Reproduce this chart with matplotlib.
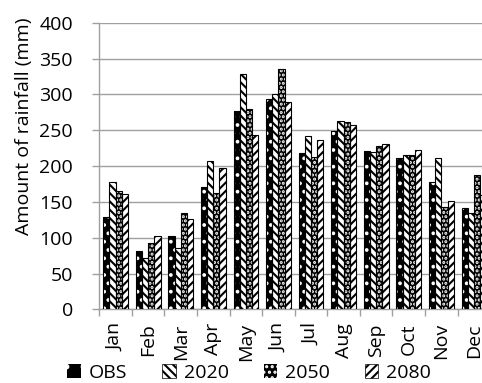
import numpy as np
import matplotlib
matplotlib.use("Agg")
import matplotlib.pyplot as plt
from matplotlib.patches import Patch

plt.rcParams['font.family'] = ['Open Sans', 'DejaVu Sans']
plt.rcParams['hatch.linewidth'] = 1.5

# monthly rainfall (mm): observed and three future periods
months = ['Jan', 'Feb', 'Mar', 'Apr', 'May', 'Jun',
          'Jul', 'Aug', 'Sep', 'Oct', 'Nov', 'Dec']
obs = [129, 81, 102, 171, 277, 293, 218, 249, 221, 211, 178, 142]
y2020 = [178, 72, 86, 207, 328, 301, 242, 263, 219, 215, 211, 134]
y2050 = [165, 93, 135, 163, 280, 336, 212, 261, 228, 215, 143, 187]
y2080 = [161, 103, 126, 197, 244, 289, 237, 258, 231, 223, 151, 159]
series_names = ['OBS', '2020', '2050', '2080']

fig = plt.figure(figsize=(4.82, 3.83), dpi=100)
ax = fig.add_axes([0.206, 0.1924, 0.811, 0.748])

x = np.arange(len(months))
w = 0.19
offsets = [-1.5 * w, -0.5 * w, 0.5 * w, 1.5 * w]

back = '\\' * 4
fwd = '/' * 4

# black bars with white dots: hatch drawn in white, outline added on top
ax.bar(x + offsets[0], obs, w, color='black', edgecolor='white', hatch='..', linewidth=0, zorder=3)
ax.bar(x + offsets[0], obs, w, fill=False, edgecolor='black', linewidth=0.8, zorder=4)
ax.bar(x + offsets[1], y2020, w, color='white', edgecolor='black', hatch=back, linewidth=0.8, zorder=3)
ax.bar(x + offsets[2], y2050, w, color='black', edgecolor='white', hatch='....', linewidth=0, zorder=3)
ax.bar(x + offsets[2], y2050, w, fill=False, edgecolor='black', linewidth=0.8, zorder=4)
ax.bar(x + offsets[3], y2080, w, color='white', edgecolor='black', hatch=fwd, linewidth=0.8, zorder=3)

ax.set_xlim(-0.5, len(months) - 0.5)
ax.set_ylim(0, 400)
ax.set_yticks(np.arange(0, 401, 50))
ax.yaxis.grid(True, color='#a0a0a0', linewidth=1.0, zorder=0)
ax.set_axisbelow(True)

ax.set_xticks(x)
ax.set_xticklabels(months, rotation=90, fontsize=14)
ax.set_xticks(np.arange(-0.5, len(months), 1), minor=True)
ax.tick_params(axis='x', which='major', length=0, pad=10)
ax.tick_params(axis='x', which='minor', length=5, color='#a0a0a0', width=1)
ax.tick_params(axis='y', length=5, color='#a0a0a0', width=1, labelsize=14, pad=14)

for side in ['top', 'right']:
    ax.spines[side].set_visible(False)
for side in ['left', 'bottom']:
    ax.spines[side].set_color('#a0a0a0')
    ax.spines[side].set_linewidth(1.0)

ax.set_ylabel('Amount of rainfall (mm)', fontsize=14)
ax.yaxis.set_label_coords(-0.17, 0.64)

handles = [
    Patch(facecolor='black', edgecolor='white', hatch='.', linewidth=0),
    Patch(facecolor='white', edgecolor='black', hatch=back, linewidth=0.5),
    Patch(facecolor='black', edgecolor='white', hatch='...', linewidth=0),
    Patch(facecolor='white', edgecolor='black', hatch=fwd, linewidth=0.5),
]
fig.legend(handles, series_names, loc='center', bbox_to_anchor=(0.517, 0.026),
           ncol=4, frameon=False, fontsize=14, handlelength=0.7, handleheight=0.7,
           handletextpad=0.4, columnspacing=1.8, borderpad=0)

fig.savefig('out.png', dpi=100)
